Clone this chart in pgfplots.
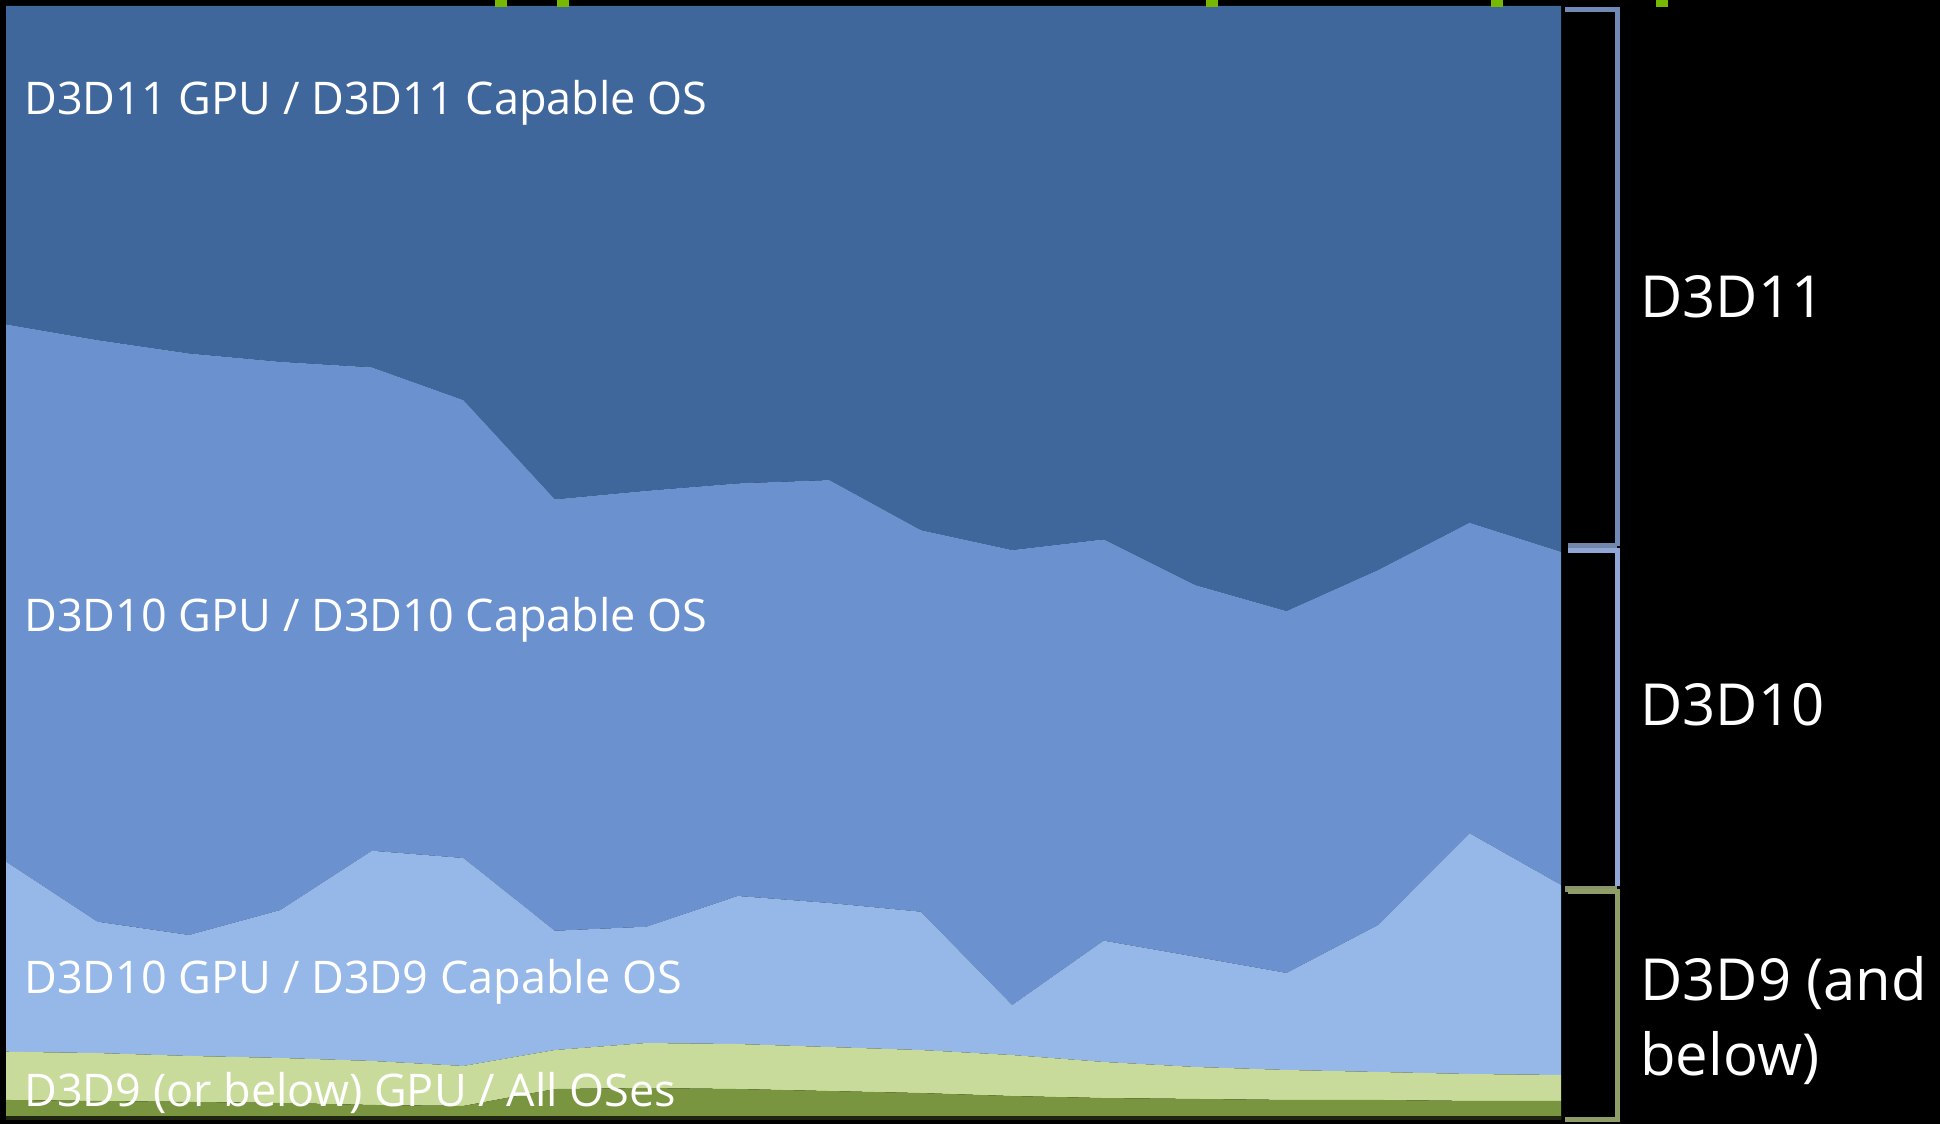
\documentclass[border=0pt]{standalone}
\usepackage{pgfplots}
\usepackage{pgfplotstable}
\pgfplotsset{compat=1.18}
\usepackage{fontspec}
\setmainfont{Open Sans}
\definecolor{cEleven}{HTML}{3F679B}
\definecolor{cTenTen}{HTML}{6B92CF}
\definecolor{cTenNine}{HTML}{95B8E8}
\definecolor{cLightGreen}{HTML}{C8DB9B}
\definecolor{cDarkGreen}{HTML}{7A953F}
\definecolor{nvgreen}{HTML}{76B900}
\definecolor{brElev}{HTML}{7089B5}
\definecolor{brTen}{HTML}{8FA6D6}
\definecolor{brNine}{HTML}{8E9E66}

% shares (percent) per sample: dark green, light green, D3D10/D3D9 OS, D3D10/D3D10 OS, D3D11
\pgfplotstableread{
x  g0   g1   b2    b3    b4
0  1.80 4.33 17.06 48.24 28.57
1  1.71 4.30 11.79 52.22 29.98
2  1.62 4.13 10.86 52.21 31.18
3  1.53 4.04 13.28 49.22 31.93
4  1.35 3.95 18.87 43.40 32.43
5  1.26 3.59 18.67 41.11 35.37
6  2.78 3.50 10.71 38.73 44.28
7  2.87 4.04 10.44 39.14 43.51
8  2.78 4.04 13.29 37.04 42.85
9  2.60 3.95 12.93 37.97 42.55
10 2.42 3.86 12.42 34.26 47.04
11 2.15 3.68  4.49 40.85 48.83
12 1.97 3.24 10.89 36.03 47.87
13 1.89 2.87  9.90 33.37 51.97
14 1.80 2.69  8.71 32.49 54.31
15 1.80 2.51 13.19 31.87 50.63
16 1.71 2.42 21.61 27.88 46.38
17 1.71 2.33 17.06 29.91 48.99
}\shares

\begin{document}
\begin{tikzpicture}
\fill[black] (0,0) rectangle (970pt,562pt);
\path[use as bounding box] (0,0) rectangle (970pt,562pt);
\begin{axis}[
  at={(3pt,2pt)}, anchor=south west,
  width=777.5pt, height=557pt, scale only axis,
  xmin=0, xmax=17, ymin=0, ymax=100,
  hide axis, stack plots=y, area style,
]
\addplot[fill=cDarkGreen, draw=none] table[x=x, y=g0] {\shares} \closedcycle;
\addplot[fill=cLightGreen, draw=none] table[x=x, y=g1] {\shares} \closedcycle;
\addplot[fill=cTenNine, draw=none] table[x=x, y=b2] {\shares} \closedcycle;
\addplot[fill=cTenTen, draw=none] table[x=x, y=b3] {\shares} \closedcycle;
\addplot[fill=cEleven, draw=none] table[x=x, y=b4] {\shares} \closedcycle;
\end{axis}
\begin{scope}[x=0.5pt, y=-0.5pt, yshift=562pt]
  % top green tick marks
  \foreach \gx in {501,563,1212,1497,1662} {
    \fill[nvgreen] (\gx-6,0) rectangle (\gx+6,7);
  }
  % thin dark base line of the plot
  \fill[black!75!cDarkGreen] (6,1116) rectangle (1561,1120);
  % brackets
  \draw[brElev, line width=2.5pt] (1565,10) -- (1617,10) -- (1617,546);
  \draw[brElev!80!gray, line width=3pt] (1568,546) -- (1617,546);
  \draw[brTen, line width=2.5pt] (1568,551) -- (1617,551) -- (1617,886);
  \draw[brNine!70!gray, line width=3pt] (1565,889) -- (1617,889);
  \draw[brNine, line width=2.5pt] (1568,892) -- (1617,892) -- (1617,1120) -- (1565,1120);
  % in-chart labels
  \begin{scope}[every node/.style={text=white, anchor=west, inner sep=0pt, font=\fontsize{22.5pt}{27pt}\selectfont}]
    \node at (24,103) {D3D11 GPU / D3D11 Capable OS};
    \node at (24,620) {D3D10 GPU / D3D10 Capable OS};
    \node at (24,982) {D3D10 GPU / D3D9 Capable OS};
    \node at (24,1093) {D3D9 (or below) GPU / All OSes};
  \end{scope}
  % right labels
  \begin{scope}[every node/.style={text=white, anchor=west, inner sep=0pt, font=\fontsize{29pt}{37.5pt}\selectfont}]
    \node at (1640,297) {D3D11};
    \node at (1640,705) {D3D10};
    \node[align=left] at (1640,1021) {D3D9 (and\\below)};
  \end{scope}
\end{scope}
\end{tikzpicture}
\end{document}
